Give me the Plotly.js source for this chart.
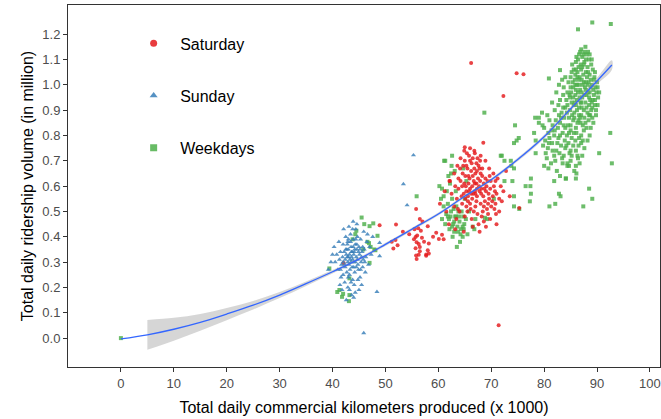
<!DOCTYPE html>
<html>
<head>
<meta charset="utf-8">
<script src="https://cdn.plot.ly/plotly-3.0.1.min.js"></script>
<style>html,body{margin:0;padding:0;background:#fff;}#chart{width:661px;height:419px;}</style>
</head>
<body>
<div id="chart"></div>
<script>
// ---- Data (x = km produced in thousands, y = ridership in million) ----
const categories = ["Saturday", "Sunday", "Weekdays"];

const saturdayPts = [
[65.0,0.70],[65.8,0.72],[66.5,0.71],[67.2,0.69],[65.5,0.67],[66.2,0.66],[67.0,0.65],[67.8,0.67],[64.6,0.65],[65.9,0.63],
[66.7,0.62],[67.5,0.63],[68.3,0.64],[64.2,0.62],[65.2,0.60],[66.0,0.59],[66.9,0.58],[67.7,0.60],[68.6,0.61],[69.3,0.62],
[63.8,0.59],[64.8,0.57],[65.6,0.56],[66.4,0.55],[67.3,0.56],[68.1,0.57],[69.0,0.58],[69.8,0.59],[70.5,0.60],[63.5,0.55],
[64.5,0.53],[65.3,0.52],[66.1,0.51],[67.0,0.52],[68.0,0.53],[68.8,0.54],[69.6,0.55],[70.3,0.56],[71.0,0.57],[64.0,0.50],
[65.0,0.48],[66.3,0.47],[67.4,0.49],[68.4,0.50],[69.2,0.51],[70.0,0.52],[70.8,0.53],[71.5,0.55],[63.0,0.52],[62.5,0.57],
[62.2,0.62],[63.0,0.65],[63.6,0.68],[64.2,0.71],[64.9,0.74],[66.0,0.75],[66.8,0.74],[68.0,0.72],[68.9,0.70],[69.6,0.67],
[70.4,0.65],[71.2,0.63],[71.8,0.60],[72.3,0.58],[66.5,0.44],[67.6,0.45],[68.6,0.46],[69.8,0.47],[70.9,0.49],[71.5,0.50],
[62.0,0.45],[61.5,0.50],[63.2,0.43],[64.8,0.42],[65.7,0.64],[66.3,0.69],[67.4,0.71],[65.4,0.73],[66.9,0.61],[67.9,0.62],
[68.7,0.59],[69.5,0.57],[70.2,0.54],[65.1,0.55],[66.0,0.53],[67.2,0.54],[68.5,0.56],[69.9,0.62],[70.7,0.58],[72.0,0.54],
[71.0,0.45],[69.0,0.44],[67.8,0.42],[64.5,0.60],[63.8,0.63],[65.8,0.58],[66.6,0.57],[67.3,0.59],[68.2,0.48],[69.4,0.49],
[62.1,0.62],[60.3,0.53],[61.2,0.58],[63.4,0.47],
[65.3,0.68],[66.0,0.70],[66.8,0.67],[67.6,0.68],[65.1,0.64],[66.5,0.64],[67.3,0.66],[68.0,0.65],[64.9,0.61],[65.7,0.61],
[66.4,0.60],[67.2,0.61],[68.1,0.59],[65.3,0.58],[66.2,0.57],[67.0,0.57],[67.8,0.58],[68.9,0.63],[69.1,0.60],[64.4,0.56],
[64.1,0.67],[65.6,0.54],[66.7,0.50],[68.6,0.52],[69.7,0.64],[70.8,0.62],[70.6,0.51],[63.7,0.51],[66.9,0.73],[67.9,0.70],
[68.3,0.67],[69.4,0.53],[64.7,0.68],[63.2,0.60],[65.5,0.50],
[55.8,0.51],[56.5,0.47],[52.0,0.449],[48.9,0.446],[58.0,0.442],[56.2,0.434],[55.5,0.43],[56.7,0.424],[55.7,0.399],[56.0,0.405],
[55.4,0.39],[56.9,0.396],[59.6,0.416],[60.7,0.408],[60.1,0.391],[61.0,0.39],[51.9,0.387],[51.2,0.38],[58.2,0.374],[55.9,0.378],
[56.3,0.372],[51.5,0.354],[52.3,0.367],[55.7,0.355],[58.0,0.347],[56.5,0.343],[57.7,0.33],[58.2,0.334],[55.8,0.326],[56.3,0.329],
[57.7,0.325],[55.9,0.312],[56.5,0.36],[57.0,0.46],[54.5,0.41],[53.3,0.42],[59.0,0.40],[57.3,0.38],[42.1,0.297],
[66.2,1.086],[74.8,1.046],[76.1,1.042],[72.3,0.956],[71.4,0.051],[75.3,0.514],[68.5,0.771],[65.0,0.753],[73.5,0.56],[72.8,0.66]
];

const sundayPts = [
[43.2,0.33],[43.8,0.31],[44.1,0.34],[43.5,0.36],[42.9,0.30],[44.5,0.32],[43.0,0.35],[44.8,0.29],[42.6,0.33],[43.7,0.28],
[44.3,0.37],[45.1,0.33],[42.4,0.31],[43.9,0.39],[44.6,0.35],[43.3,0.27],[42.8,0.37],[45.4,0.30],[44.0,0.30],[43.6,0.32],
[42.2,0.34],[45.0,0.36],[44.2,0.26],[43.1,0.29],[45.6,0.34],[41.9,0.32],[44.7,0.40],[43.4,0.41],[42.7,0.26],[45.8,0.31],
[41.7,0.29],[44.9,0.27],[43.0,0.24],[46.0,0.35],[42.0,0.37],[44.4,0.43],[45.3,0.39],[41.5,0.34],[43.8,0.23],[46.3,0.32],
[42.5,0.40],[45.7,0.28],[41.3,0.31],[44.1,0.21],[46.5,0.38],[42.3,0.22],[43.2,0.19],[45.2,0.24],[41.0,0.27],[46.8,0.29],
[40.8,0.33],[44.6,0.45],[42.1,0.43],[47.0,0.36],[41.6,0.24],[43.6,0.17],[45.9,0.42],[40.5,0.30],[42.9,0.20],[44.0,0.16],
[46.2,0.26],[41.2,0.38],[47.3,0.33],[43.9,0.46],[40.3,0.36],[45.5,0.21],[42.6,0.15],[41.8,0.19],[46.6,0.41],[44.3,0.18],
[43.1,0.44],[47.6,0.40],[40.0,0.33],[45.0,0.19],[42.0,0.25],[44.8,0.23],[43.4,0.38],[43.0,0.39],[44.5,0.28],[42.4,0.28],
[45.3,0.27],[41.4,0.21],[43.7,0.34],[44.2,0.35],[42.7,0.35],[43.5,0.30],[44.0,0.33],[43.3,0.31],[44.7,0.31],[42.8,0.32],
[43.0,0.32],[43.6,0.34],[44.3,0.30],[42.5,0.35],[44.9,0.34],[43.9,0.36],[42.3,0.29],[45.5,0.32],[44.6,0.37],[43.2,0.25],
[44.0,0.28],[45.2,0.35],[42.9,0.38],[41.5,0.27],[46.1,0.30],[43.5,0.22],[44.4,0.39],[42.0,0.30],[45.7,0.36],[43.8,0.43],
[45.9,0.02],[55.3,0.722],[53.4,0.608],[54.1,0.525],[48.9,0.376],[48.9,0.324],[48.4,0.183],[39.7,0.30],[39.2,0.27]
];

const weekdayPts = [
[0.0,0.0],
[87.0,1.14],[87.8,1.15],[88.3,1.13],[86.6,1.12],[88.0,1.12],
[86.4,1.10],[87.2,1.11],[88.5,1.10],[87.6,1.09],[86.9,1.08],[88.9,1.08],[86.0,1.09],[87.4,1.12],[88.2,1.07],
[85.6,1.06],[86.3,1.05],[87.0,1.06],[87.9,1.05],[88.6,1.04],[89.2,1.06],[86.7,1.03],[85.9,1.04],[88.1,1.03],[87.4,1.04],[89.5,1.03],[85.2,1.05],[86.5,1.07],
[85.4,1.01],[86.2,1.00],[87.1,1.02],[87.7,0.99],[88.4,1.01],[89.0,1.00],[89.7,0.99],[86.8,0.98],[85.0,0.99],[88.8,1.02],[87.3,1.00],[84.6,1.01],[90.0,1.01],[86.0,0.98],
[84.8,0.96],[85.5,0.95],[86.4,0.97],[87.2,0.95],[88.0,0.96],[88.7,0.94],[89.4,0.96],[90.2,0.95],[86.9,0.93],[85.8,0.93],[87.8,0.93],[89.0,0.93],[84.2,0.94],[88.3,0.97],[90.4,0.97],[83.6,0.96],
[84.0,0.91],[84.9,0.90],[85.7,0.89],[86.6,0.91],[87.5,0.90],[88.2,0.89],[89.1,0.91],[89.8,0.90],[83.3,0.89],[86.0,0.92],[88.7,0.88],[87.0,0.88],[90.1,0.92],[82.7,0.92],[85.3,0.88],
[82.2,0.86],[83.0,0.85],[83.8,0.87],[84.5,0.84],[85.5,0.86],[86.3,0.85],[87.3,0.84],[88.4,0.86],[89.3,0.85],[81.6,0.84],[86.8,0.87],[84.0,0.83],[88.0,0.83],[82.6,0.83],
[80.8,0.81],[81.9,0.80],[82.7,0.79],[83.5,0.81],[84.3,0.80],[85.2,0.79],[86.1,0.81],[87.0,0.80],[88.6,0.80],[80.2,0.78],[83.9,0.78],[85.9,0.78],[81.4,0.82],
[79.8,0.76],[80.7,0.75],[81.5,0.77],[82.3,0.74],[83.2,0.76],[84.0,0.75],[85.0,0.74],[86.5,0.76],[87.6,0.75],[82.9,0.73],[80.3,0.73],[84.6,0.77],
[80.5,0.71],[81.3,0.69],[82.1,0.70],[83.4,0.71],[84.4,0.69],[85.2,0.72],[86.0,0.68],[81.9,0.72],
[80.8,0.67],[82.4,0.66],[84.4,0.68],[85.7,0.66],[83.0,0.64],[84.1,0.63],[86.0,0.63],
[81.5,0.93],[82.3,0.97],[82.8,1.00],[83.4,1.02],[82.0,0.90],[80.6,0.88],[79.6,0.89],[78.3,0.87],[79.0,0.85],[80.0,0.83],[84.0,1.03],[83.7,0.99],[81.0,0.86],
[87.5,1.08],[88.8,0.99],[86.2,0.94],[87.9,1.01],[89.3,0.98],[85.6,0.92],[87.1,0.97],[88.5,0.92],[86.5,1.02],[89.6,0.94],[85.0,0.82],[83.0,0.94],
[85.3,1.08],[86.1,1.11],[86.8,1.13],[87.6,1.13],[88.6,1.12],[89.0,1.10],[85.8,1.02],[86.6,1.00],[87.5,1.01],[88.2,1.00],
[89.4,1.02],[85.1,0.97],[85.9,0.96],[86.7,0.95],[87.6,0.96],[88.5,0.95],[89.2,0.94],[89.9,0.97],[84.4,0.92],[85.2,0.93],
[86.2,0.90],[87.1,0.91],[88.0,0.91],[88.9,0.90],[89.6,0.92],[84.7,0.87],[85.7,0.87],[86.6,0.88],[87.6,0.87],[88.5,0.88],
[89.1,0.87],[83.7,0.84],[85.0,0.84],[86.0,0.83],[86.9,0.85],[87.8,0.85],[88.8,0.83],[83.0,0.80],[84.7,0.81],[85.6,0.81],
[86.6,0.79],[87.5,0.82],[82.5,0.77],[84.2,0.76],[85.5,0.76],[86.0,0.74],[87.0,0.77],[83.7,0.72],[85.0,0.70],[86.7,0.69],
[81.0,0.79],[82.0,0.82],[81.6,0.74],[80.9,0.77],[82.8,0.88],[83.6,0.91],[84.4,0.97],[85.0,1.03],[86.0,1.06],[87.9,1.10],
[89.6,1.05],[90.1,0.99],[89.8,0.88],[84.9,0.95],[85.5,0.99],[86.3,1.03],[87.2,1.07],[88.3,1.05],[87.0,0.93],[87.9,0.98],
[88.6,0.97],[86.5,0.86],[85.9,1.00],[84.3,0.89],[83.2,0.87],[87.3,0.78],[88.2,0.78],[86.3,0.72],[84.8,0.73],[83.5,0.69],
[61.0,0.52],[61.5,0.49],[62.0,0.47],[62.4,0.50],[62.8,0.45],[63.2,0.48],[63.6,0.44],[64.0,0.46],[64.4,0.50],[64.8,0.43],
[65.2,0.47],[61.8,0.53],[62.6,0.55],[63.4,0.52],[64.2,0.41],[63.0,0.42],[65.5,0.41],[64.6,0.40],[61.3,0.45],[62.1,0.43],
[63.8,0.50],[62.9,0.51],[64.9,0.45],[61.6,0.58],[62.2,0.61],[61.9,0.64],[62.5,0.68],[61.3,0.70],[62.6,0.72],[63.1,0.66],
[64.7,0.67],[65.3,0.62],[61.0,0.56],[63.3,0.58],[60.7,0.47],[60.5,0.55],[65.8,0.50],[64.1,0.38],[63.5,0.36],[66.5,0.44],
[62.7,0.40],[67.0,0.47],[68.8,0.475],[65.0,0.55],[60.2,0.60],[62.4,0.65],[60.7,0.59],[63.3,0.48],[64.6,0.44],[66.8,0.43],
[62.3,0.48],[63.0,0.46],[63.9,0.48],[62.6,0.44],[64.3,0.43],[63.7,0.42],[61.8,0.48],[64.7,0.48],
[71.8,0.72],[72.5,0.70],[73.7,0.70],[74.3,0.67],[74.0,0.62],[74.3,0.56],[74.3,0.52],[72.5,0.62],[75.3,0.51],[77.5,0.63],
[77.5,0.57],[77.3,0.54],[74.3,0.77],[74.5,0.84],[74.8,0.78],[75.2,0.79],[78.1,0.81],[78.4,0.78],[79.0,0.87],[79.7,0.84],
[78.4,0.73],[72.0,0.72],[73.8,0.68],[69.2,0.47],[70.5,0.55],[68.7,0.89],[76.5,0.60],[80.0,0.68],[83.1,0.56],[84.1,0.63],
[81.9,0.62],[82.8,0.57],[82.1,0.53],[81.0,0.52],[88.5,0.59],[89.1,0.55],[87.4,0.52],[86.1,0.65],[84.7,0.68],[86.4,0.71],
[87.2,0.72],[90.4,0.73],[92.5,0.81],[92.8,0.69],[77.4,0.60],[80.9,1.025],[83.0,1.058],[86.4,1.219],[89.1,1.246],[92.6,1.24],
[55.9,0.56],[61.1,0.70],
[45.5,0.476],[47.0,0.442],[47.7,0.453],[48.5,0.404],[44.5,0.424],[43.8,0.39],[46.6,0.38],[46.9,0.375],[48.1,0.347],[47.2,0.36],
[39.4,0.275],[43.2,0.236],[40.9,0.182],[41.3,0.19],[42.0,0.175],[43.2,0.17],[43.1,0.146],[41.8,0.163],[46.0,0.45],[47.9,0.35],
[47.0,0.297],[44.3,0.41],[45.8,0.35]
];

// Fitted curve and confidence band
const fitX = [0, 5, 10, 15, 20, 25, 30, 35, 40, 45, 50, 55, 60, 65, 70, 75, 80, 85, 90, 92.8];
const fitY = [-0.003, 0.013, 0.035, 0.062, 0.095, 0.130, 0.170, 0.215, 0.262, 0.312, 0.370, 0.430, 0.490, 0.560, 0.625, 0.705, 0.795, 0.905, 1.015, 1.078];
const bandX = [5, 10, 15, 20, 25, 30, 35, 40, 45, 50, 55, 60, 65, 70, 75, 80, 85, 90, 92.8];
const bandUpper = [0.072, 0.080, 0.095, 0.119, 0.147, 0.182, 0.224, 0.269, 0.318, 0.376, 0.436, 0.496, 0.566, 0.631, 0.712, 0.803, 0.914, 1.028, 1.097];
const bandLower = [-0.046, -0.010, 0.029, 0.071, 0.113, 0.158, 0.206, 0.255, 0.306, 0.364, 0.424, 0.484, 0.554, 0.619, 0.698, 0.787, 0.896, 1.002, 1.059];

const xTicks = [0, 10, 20, 30, 40, 50, 60, 70, 80, 90, 100];
const yTicks = [0.0, 0.1, 0.2, 0.3, 0.4, 0.5, 0.6, 0.7, 0.8, 0.9, 1.0, 1.1, 1.2];

const colors = { Saturday: "#E41A1C", Sunday: "#377EB8", Weekdays: "#4DAF4A" };
const symbols = { Saturday: "circle", Sunday: "triangle-up", Weekdays: "square" };
const sizes = { Saturday: 4, Sunday: 4.5, Weekdays: 4 };
const ptsBy = { Saturday: saturdayPts, Sunday: sundayPts, Weekdays: weekdayPts };

const drawOrder = ["Weekdays", "Saturday", "Sunday"];
const traces = drawOrder.map(c => ({
  type: "scatter", mode: "markers", name: c, showlegend: false,
  x: ptsBy[c].map(p => p[0]), y: ptsBy[c].map(p => p[1]),
  marker: { color: colors[c], symbol: symbols[c], size: sizes[c], opacity: 0.82, line: { width: 0 } },
  hoverinfo: "skip"
}));

traces.push({
  type: "scatter", mode: "lines", showlegend: false,
  x: bandX.concat(bandX.slice().reverse()),
  y: bandUpper.concat(bandLower.slice().reverse()),
  fill: "toself", fillcolor: "rgba(153,153,153,0.4)",
  line: { width: 0, shape: "spline" }, hoverinfo: "skip"
});
traces.push({
  type: "scatter", mode: "lines", showlegend: false,
  x: fitX, y: fitY,
  line: { color: "#3366FF", width: 1.3, shape: "spline" }, hoverinfo: "skip"
});

// legend entries (no data of their own)
categories.forEach(c => traces.push({
  type: "scatter", mode: "markers", name: c, legendgroup: c,
  x: [null], y: [null],
  marker: { color: colors[c], symbol: symbols[c], size: 7, opacity: 0.85 }
}));

const layout = {
  width: 661, height: 419,
  margin: { l: 68, r: 1, t: 5, b: 52 },
  paper_bgcolor: "#fff", plot_bgcolor: "#fff",
  font: { family: "Liberation Sans, Arial, sans-serif", color: "#000" },
  showlegend: true,
  legend: {
    x: 0.0999, y: 0.941, xanchor: "left", yanchor: "top",
    bgcolor: "rgba(0,0,0,0)", font: { size: 16, color: "#000" },
    tracegroupgap: 28.5, traceorder: "grouped", itemsizing: "trace", itemwidth: 43
  },
  xaxis: {
    range: [-10, 101.9], tickvals: xTicks, ticktext: xTicks.map(String),
    showgrid: false, zeroline: false, showline: true, mirror: true,
    linecolor: "#333", linewidth: 1, ticks: "outside", ticklen: 4, tickcolor: "#333",
    tickfont: { size: 13, color: "#4D4D4D" },
    title: { text: "Total daily commercial kilometers produced (x 1000)", font: { size: 16, color: "#000" }, standoff: 12 }
  },
  yaxis: {
    range: [-0.114, 1.315], tickvals: yTicks, ticktext: yTicks.map(v => v.toFixed(1)),
    showgrid: false, zeroline: false, showline: true, mirror: true,
    linecolor: "#333", linewidth: 1, ticks: "outside", ticklen: 4, tickcolor: "#333",
    tickfont: { size: 13, color: "#4D4D4D" },
    title: { text: "Total daily ridership volume (in million)", font: { size: 16, color: "#000" }, standoff: 4 }
  }
};

Plotly.newPlot("chart", traces, layout, { displayModeBar: false, staticPlot: true });
</script>
</body>
</html>
